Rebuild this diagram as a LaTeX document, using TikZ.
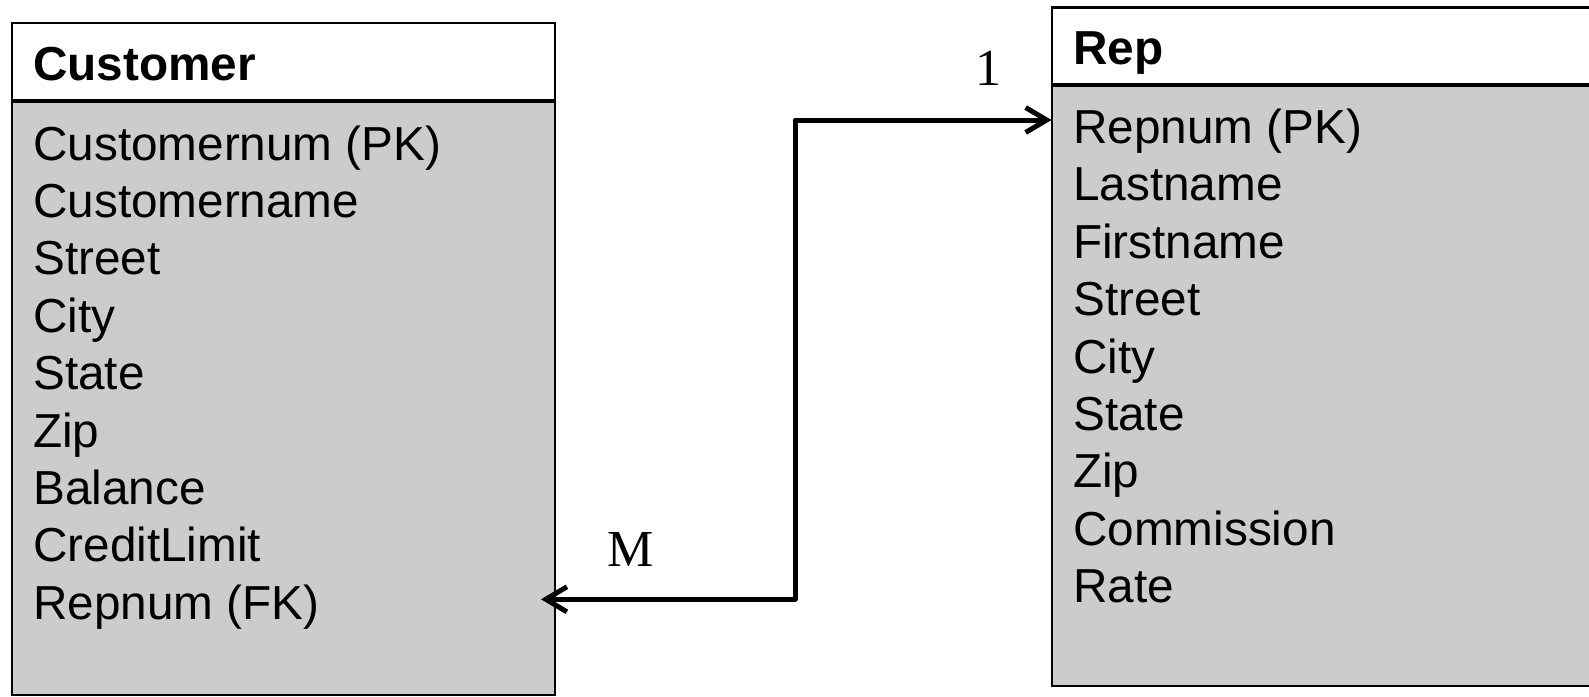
\documentclass[tikz,border=0pt]{standalone}
\usepackage{fontspec}
\setmainfont{Liberation Sans}
\newfontfamily\cardfont{Liberation Serif}
\usetikzlibrary{arrows.meta}
\definecolor{boxgray}{HTML}{CCCCCC}
\begin{document}
\begin{tikzpicture}[x=1pt,y=-1pt,
  tablebox/.style={draw=black, line width=2.5pt, anchor=north west, inner sep=0pt, outer sep=0pt},
  divider/.style={line width=4.5pt},
  rowtext/.style={anchor=base west, inner sep=0pt, font=\fontsize{47.7}{56}\selectfont},
  titletext/.style={anchor=base west, inner sep=0pt, font=\fontsize{47.7}{56}\selectfont\bfseries},
  cardlabel/.style={anchor=base, inner sep=0pt, font=\cardfont\fontsize{52}{60}\selectfont},
  relline/.style={line width=5pt, line join=round,
    {Straight Barb[length=21pt,width=25pt]}-{Straight Barb[length=21pt,width=25pt]}}
]
\useasboundingbox (0,0) rectangle (1589,696);
\clip (0,0) rectangle (1589,696);

% Customer table
\node[tablebox, fill=boxgray, minimum width=543pt, minimum height=594pt] (custbody) at (12,101) {};
\node[tablebox, fill=white, minimum width=543pt, minimum height=78pt] (custhead) at (12,23) {};
\draw[divider] (custhead.south west) -- (custhead.south east);
\node[titletext] (ctitle) at (33,80.5) {Customer};
\node[rowtext] (c1) at (33,160.0) {Customernum (PK)};
\node[rowtext] (c2) at (33,217.4) {Customername};
\node[rowtext] (c3) at (33,274.8) {Street};
\node[rowtext] (c4) at (33,332.2) {City};
\node[rowtext] (c5) at (33,389.6) {State};
\node[rowtext] (c6) at (33,447.0) {Zip};
\node[rowtext] (c7) at (33,504.4) {Balance};
\node[rowtext] (c8) at (33,561.8) {CreditLimit};
\node[rowtext] (c9) at (33,619.2) {Repnum (FK)};

% Rep table
\node[tablebox, fill=boxgray, minimum width=600pt, minimum height=601pt] (repbody) at (1052,85) {};
\node[tablebox, fill=white, minimum width=600pt, minimum height=77.5pt] (rephead) at (1052,7.5) {};
\draw[divider] (rephead.south west) -- (rephead.south east);
\node[titletext] (rtitle) at (1073,64.5) {Rep};
\node[rowtext] (r1) at (1073,143.5) {Repnum (PK)};
\node[rowtext] (r2) at (1073,200.9) {Lastname};
\node[rowtext] (r3) at (1073,258.3) {Firstname};
\node[rowtext] (r4) at (1073,315.7) {Street};
\node[rowtext] (r5) at (1073,373.1) {City};
\node[rowtext] (r6) at (1073,430.5) {State};
\node[rowtext] (r7) at (1073,487.9) {Zip};
\node[rowtext] (r8) at (1073,545.3) {Commission};
\node[rowtext] (r9) at (1073,602.7) {Rate};

% Relationship connector
\coordinate (fkTip) at (541,599.3);
\coordinate (bendLow) at (795,599.3);
\coordinate (bendHigh) at (795,120);
\coordinate (pkTip) at (1051.5,120);
\draw[relline] (fkTip) -- (bendLow) -- (bendHigh) -- (pkTip);

% Cardinalities
\node[cardlabel] (one) at (988,85) {1};
\node[cardlabel] (many) at (631,566) {M};
\end{tikzpicture}
\end{document}
